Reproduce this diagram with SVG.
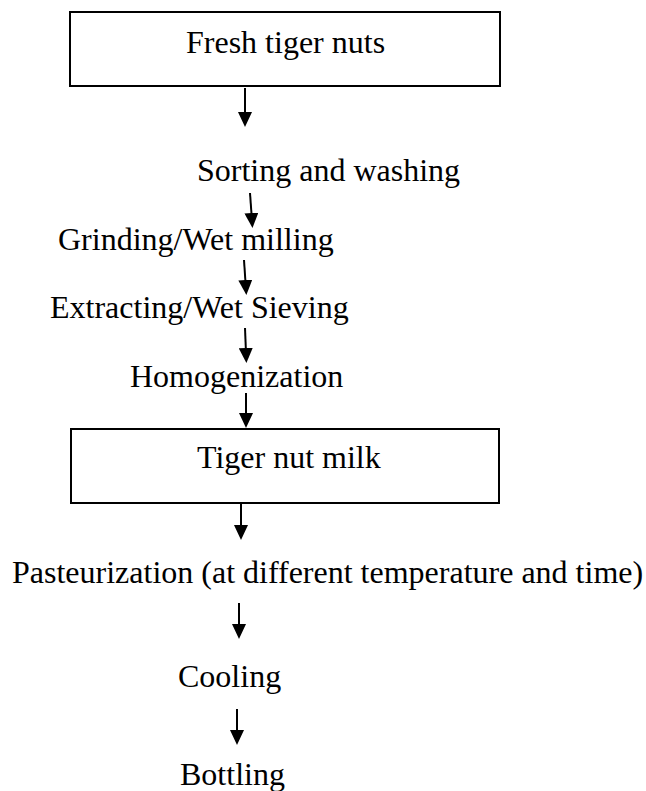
<svg xmlns="http://www.w3.org/2000/svg" width="646" height="791" viewBox="0 0 646 791">
<style>
.t{font-family:"Liberation Serif","Times New Roman",serif;font-size:32px;fill:#000}
.box{fill:#fff;stroke:#000;stroke-width:2}
.c{stroke:#000;stroke-width:2;fill:none;marker-end:url(#ah)}
</style>
<defs>
<marker id="ah" viewBox="0 0 15 14" refX="5" refY="7" markerWidth="15" markerHeight="14" orient="auto" markerUnits="userSpaceOnUse">
<path d="M0,0 L15,7 L0,14 z" fill="#000"/>
</marker>
</defs>
<rect width="646" height="791" fill="#fff"/>
<g id="n1"><rect class="box" x="70" y="12" width="430" height="74"/><text class="t" x="186" y="53">Fresh tiger nuts</text></g>
<g id="n2"><text class="t" x="197" y="181">Sorting and washing</text></g>
<g id="n3"><text class="t" x="58" y="250">Grinding/Wet milling</text></g>
<g id="n4"><text class="t" x="50" y="318">Extracting/Wet Sieving</text></g>
<g id="n5"><text class="t" x="130" y="387">Homogenization</text></g>
<g id="n6"><rect class="box" x="71" y="429" width="428" height="74"/><text class="t" x="197" y="468">Tiger nut milk</text></g>
<g id="n7"><text class="t" x="12" y="583">Pasteurization (at different temperature and time)</text></g>
<g id="n8"><text class="t" x="178" y="687">Cooling</text></g>
<g id="n9"><text class="t" x="180" y="785">Bottling</text></g>
<g id="connectors">
<line class="c" x1="245" y1="88" x2="245" y2="117"/>
<line class="c" x1="250" y1="193" x2="251.8" y2="218"/>
<line class="c" x1="244" y1="260" x2="245.7" y2="285"/>
<line class="c" x1="245" y1="328" x2="246" y2="353"/>
<line class="c" x1="246" y1="393" x2="246" y2="418"/>
<line class="c" x1="241" y1="503" x2="241" y2="530"/>
<line class="c" x1="239" y1="603" x2="239" y2="629"/>
<line class="c" x1="237" y1="709" x2="237" y2="735"/>
</g>
</svg>
